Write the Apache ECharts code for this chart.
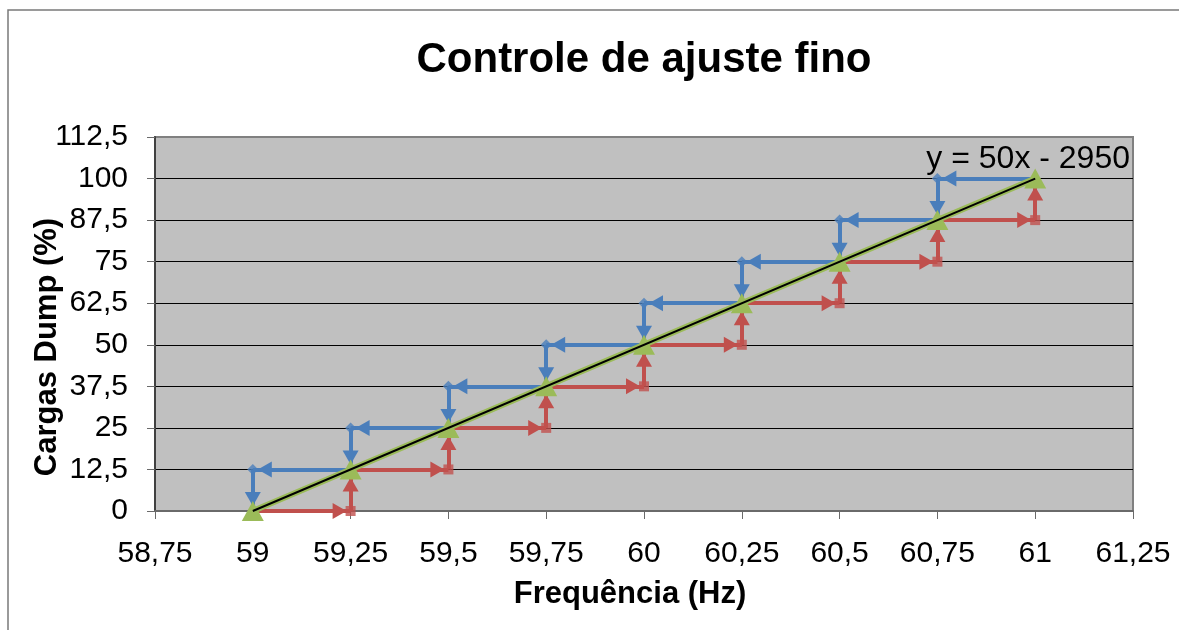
<!DOCTYPE html>
<html>
<head>
<meta charset="utf-8">
<title>Controle de ajuste fino</title>
<script src="https://cdn.jsdelivr.net/npm/echarts@6/dist/echarts.min.js"></script>
<style>
  html, body { margin: 0; padding: 0; background: #fff; }
  #chart { width: 1179px; height: 630px; }
</style>
</head>
<body>
<div id="chart"></div>
<script>
// Frequency steps (Hz) and the dump-load percentage at each step
const frequencias = [59, 59.25, 59.5, 59.75, 60, 60.25, 60.5, 60.75, 61];
const cargas = [0, 12.5, 25, 37.5, 50, 62.5, 75, 87.5, 100];

// Linear fit shown on the chart
const trendSlope = 50;
const trendIntercept = -2950;
const trendLabel = 'y = 50x - 2950';

const FONT = '"Liberation Sans", Arial, sans-serif';
const BLUE = '#4A7EBB';
const RED = '#C0504D';
const GREEN = '#9BBB59';

const fmt = v => String(v).replace('.', ',');

// Rising path (red): right along the current level, then up to the next one.
// Falling path (blue): left along the upper level, then down to the lower one.
const redSegs = [], redRightTips = [], redUpTips = [], redCorners = [];
const blueSegs = [], blueLeftTips = [], blueDownTips = [], blueCorners = [];
for (let i = 0; i < frequencias.length - 1; i++) {
  const x0 = frequencias[i], x1 = frequencias[i + 1];
  const y0 = cargas[i], y1 = cargas[i + 1];
  redSegs.push({ coords: [[x0, y0], [x1, y0]] });
  redSegs.push({ coords: [[x1, y0], [x1, y1]] });
  redRightTips.push([x1, y0]);
  redUpTips.push([x1, y1]);
  redCorners.push([x1, y0]);
  blueSegs.push({ coords: [[x1, y1], [x0, y1]] });
  blueSegs.push({ coords: [[x0, y1], [x0, y0]] });
  blueLeftTips.push([x0, y1]);
  blueDownTips.push([x0, y0]);
  blueCorners.push([x0, y1]);
}

const pontos = frequencias.map((f, i) => [f, cargas[i]]);
const fxMin = frequencias[0], fxMax = frequencias[frequencias.length - 1];
const trend = [
  [fxMin, trendSlope * fxMin + trendIntercept],
  [fxMax, trendSlope * fxMax + trendIntercept]
];

const gridLineColors = [];
for (let i = 0; i < 9; i++) gridLineColors.push('#000');
gridLineColors.push('#808080');

// Arrowhead drawn as a rotated triangle, pulled back from the corner it points at
function arrowHeads(name, data, color, rotate, offset) {
  return {
    name: name, type: 'scatter', data: data, z: 3, silent: true,
    symbol: 'triangle', symbolSize: [16, 14], symbolRotate: rotate, symbolOffset: offset,
    itemStyle: { color: color, opacity: 1 }
  };
}

const chart = echarts.init(document.getElementById('chart'), null, { renderer: 'canvas' });

chart.setOption({
  animation: false,
  backgroundColor: '#fff',
  grid: {
    left: 155, right: 46, top: 137, bottom: 119,
    show: true,
    backgroundColor: '#C0C0C0',
    borderColor: '#808080',
    borderWidth: 2
  },
  xAxis: {
    type: 'value',
    min: 58.75, max: 61.25, interval: 0.25,
    axisLine: { show: true, onZero: false, lineStyle: { color: '#6a6a6a', width: 2 } },
    axisTick: { show: true, length: 8, lineStyle: { color: '#6a6a6a', width: 1 } },
    axisLabel: { formatter: fmt, fontFamily: FONT, fontSize: 30, color: '#000', margin: 28 },
    splitLine: { show: false }
  },
  yAxis: {
    type: 'value',
    min: 0, max: 112.5, interval: 12.5,
    axisLine: { show: true, lineStyle: { color: '#404040', width: 2 } },
    axisTick: { show: true, length: 8, lineStyle: { color: '#6a6a6a', width: 1 } },
    axisLabel: { formatter: fmt, fontFamily: FONT, fontSize: 30, color: '#000', margin: 27 },
    splitLine: { show: true, lineStyle: { color: gridLineColors, width: 1 } }
  },
  graphic: [
    {
      type: 'rect', silent: true, z: -10,
      shape: { x: 8, y: 10, width: 1300, height: 800 },
      style: { fill: 'none', stroke: '#7a7a7a', lineWidth: 1.5 }
    },
    {
      type: 'text', x: 644, y: 60,
      style: { text: 'Controle de ajuste fino', font: 'bold 42px ' + FONT, fill: '#000', align: 'center', verticalAlign: 'middle' }
    },
    {
      type: 'text', x: 630, y: 594,
      style: { text: 'Frequência (Hz)', font: 'bold 31px ' + FONT, fill: '#000', align: 'center', verticalAlign: 'middle' }
    },
    {
      type: 'text', x: 47, y: 347, rotation: Math.PI / 2,
      style: { text: 'Cargas Dump (%)', font: 'bold 31px ' + FONT, fill: '#000', align: 'center', verticalAlign: 'middle' }
    },
    {
      type: 'text', x: 1130, y: 159, z: 100,
      style: { text: trendLabel, font: '32px ' + FONT, fill: '#000', align: 'right', verticalAlign: 'middle' }
    }
  ],
  series: [
    {
      name: 'Subida', type: 'lines', coordinateSystem: 'cartesian2d',
      data: redSegs, symbol: 'none', z: 2, silent: true,
      lineStyle: { color: RED, width: 4, opacity: 1 }
    },
    {
      name: 'Descida', type: 'lines', coordinateSystem: 'cartesian2d',
      data: blueSegs, symbol: 'none', z: 2, silent: true,
      lineStyle: { color: BLUE, width: 4, opacity: 1 }
    },
    arrowHeads('Subida seta horizontal', redRightTips, RED, -90, [-11, 0]),
    arrowHeads('Subida seta vertical', redUpTips, RED, 0, [0, 15]),
    arrowHeads('Descida seta horizontal', blueLeftTips, BLUE, 90, [12, 0]),
    arrowHeads('Descida seta vertical', blueDownTips, BLUE, 180, [0, -12]),
    {
      name: 'Subida pontos', type: 'scatter', data: redCorners, z: 3, silent: true,
      symbol: 'rect', symbolSize: 10, itemStyle: { color: RED }
    },
    {
      name: 'Descida pontos', type: 'scatter', data: blueCorners, z: 3, silent: true,
      symbol: 'diamond', symbolSize: 11, itemStyle: { color: BLUE }
    },
    {
      name: 'Cargas', type: 'line', data: pontos, z: 4,
      symbol: 'triangle', symbolSize: [22, 20],
      lineStyle: { color: GREEN, width: 6 },
      itemStyle: { color: GREEN, borderWidth: 0 }
    },
    {
      name: 'Linear', type: 'line', data: trend, z: 5,
      symbol: 'none', lineStyle: { color: '#000', width: 2 }
    }
  ]
});
</script>
</body>
</html>
